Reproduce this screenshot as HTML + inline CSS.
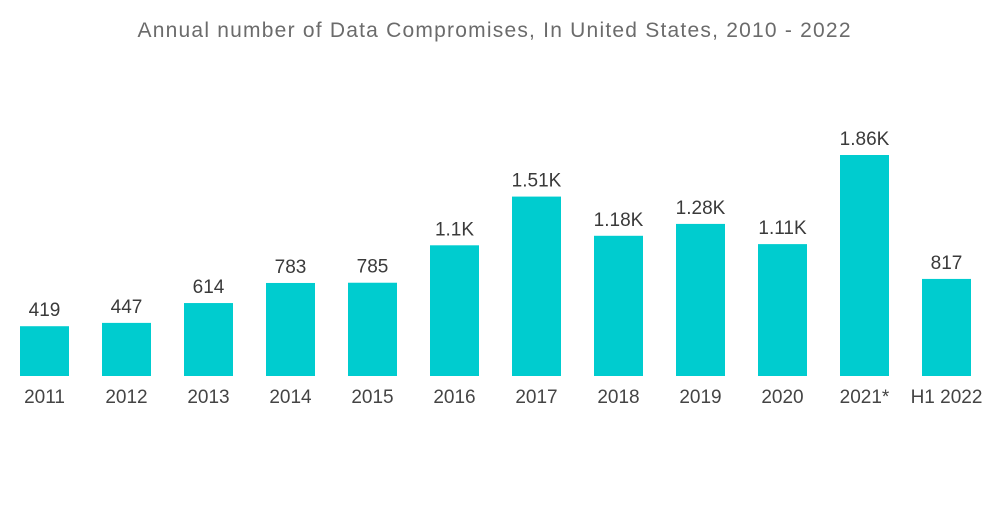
<!DOCTYPE html>
<html>
<head>
<meta charset="utf-8">
<style>
  html,body{margin:0;padding:0;background:#fff;}
  body{width:1000px;height:504px;overflow:hidden;font-family:"Liberation Sans",sans-serif;}
</style>
</head>
<body>
<svg id="chart" width="1000" height="504" xmlns="http://www.w3.org/2000/svg">
  <text x="494" y="37" text-anchor="middle" font-family="Liberation Sans, sans-serif" font-size="21" fill="#6b6b6b" textLength="713" lengthAdjust="spacing">Annual number of Data Compromises, In United States, 2010 - 2022</text>
  <g id="bars"></g>
</svg>
<script>
const categories = ["2011","2012","2013","2014","2015","2016","2017","2018","2019","2020","2021*","H1 2022"];
const values = [419,447,614,783,785,1100,1510,1180,1280,1110,1860,817];
const valueLabels = ["419","447","614","783","785","1.1K","1.51K","1.18K","1.28K","1.11K","1.86K","817"];

const baseY = 376, pxPerUnit = 221/1860, x0 = 20, pitch = 82, bw = 49;
function yScale(v){ return baseY - v*pxPerUnit; }
function xScale(i){ return x0 + i*pitch; }

const g = document.getElementById('bars');
const NS = "http://www.w3.org/2000/svg";
categories.forEach((c,i)=>{
  const x = xScale(i), y = yScale(values[i]);
  const r = document.createElementNS(NS,'rect');
  
  
  r.setAttribute('x', x); r.setAttribute('y', y);
  r.setAttribute('width', bw); r.setAttribute('height', baseY - y);
  r.setAttribute('fill', '#00cccf');
  g.appendChild(r);

  const t = document.createElementNS(NS,'text');
  
  
  t.setAttribute('x', x + bw/2); t.setAttribute('y', y - 10);
  t.setAttribute('text-anchor','middle');
  t.setAttribute('font-size','19'); t.setAttribute('fill','#3a3a3a');
  t.setAttribute('font-family','Liberation Sans, sans-serif');
  t.textContent = valueLabels[i];
  g.appendChild(t);

  const a = document.createElementNS(NS,'text');
  
  
  a.setAttribute('x', x + bw/2); a.setAttribute('y', 403);
  a.setAttribute('text-anchor','middle');
  a.setAttribute('font-size','19'); a.setAttribute('fill','#444');
  a.setAttribute('font-family','Liberation Sans, sans-serif');
  a.textContent = c;
  g.appendChild(a);
});
</script>
</body>
</html>
